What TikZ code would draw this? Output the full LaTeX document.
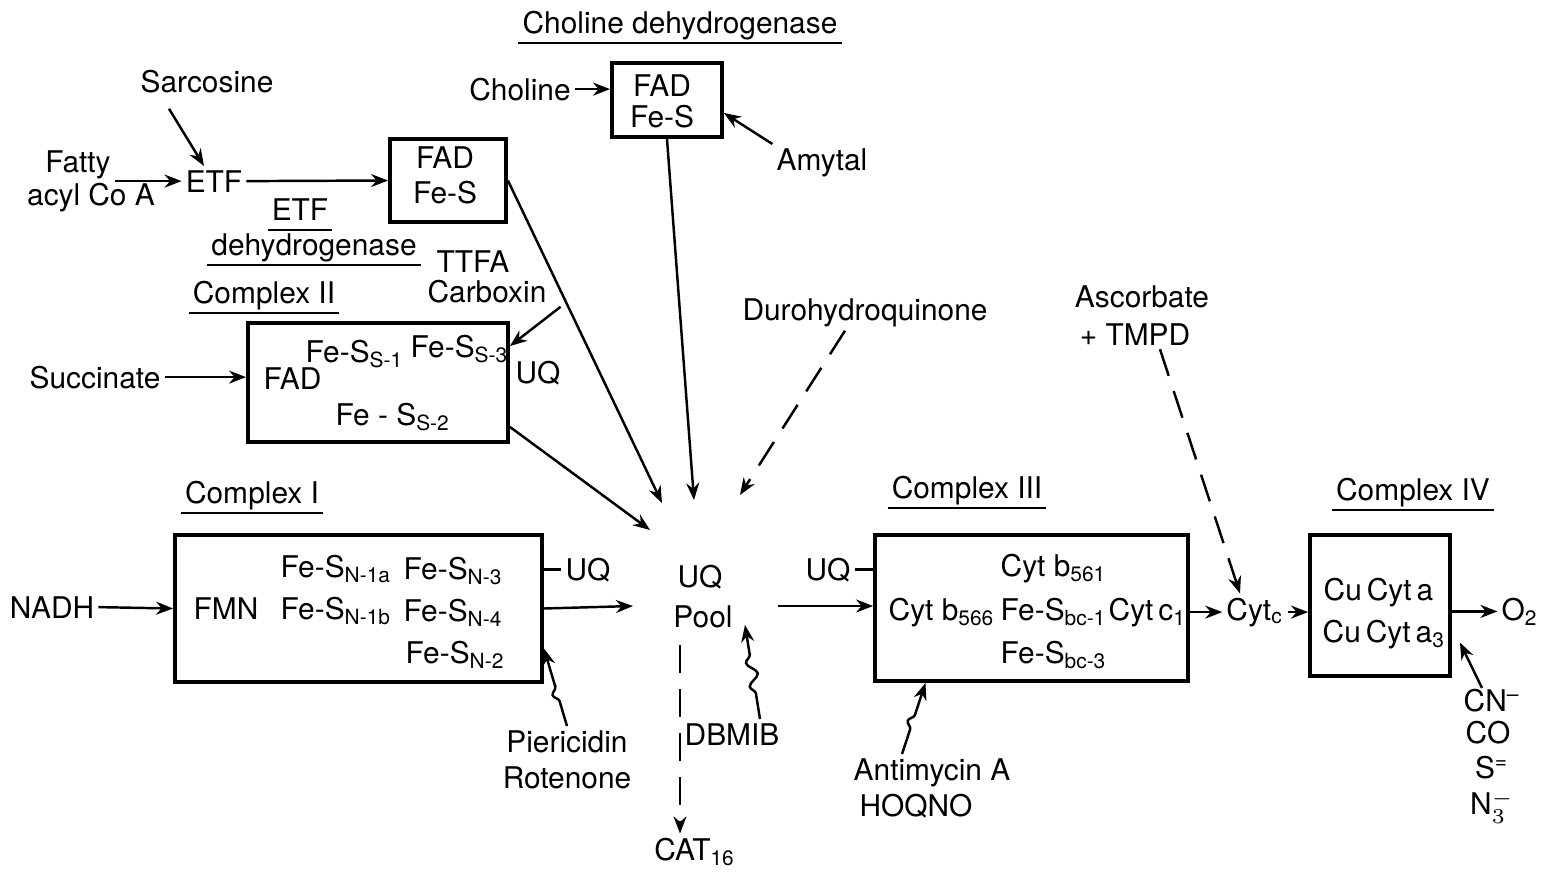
\documentclass[tikz,border=0pt]{standalone}
\usepackage{fontspec}
\setmainfont{TeX Gyre Heros}
\usetikzlibrary{arrows.meta,decorations.pathmorphing}

\begin{document}
\begin{tikzpicture}[
    >={Stealth[length=1.7mm,width=1.3mm]},
    every node/.style={font=\fontsize{8.5}{10}\selectfont},
    lbl/.style={anchor=base, inner sep=1pt},
    lblw/.style={anchor=base west, inner sep=0pt},
    cplx/.style={draw, line width=1.1pt, inner sep=0pt},
    flow/.style={line width=0.7pt, ->},
    feed/.style={line width=0.7pt, ->, dash pattern=on 2.8mm off 1.6mm},
    inhib/.style={line width=0.7pt, ->, decorate,
      decoration={snake, amplitude=0.5mm, segment length=2.4mm,
        pre length=2.6mm, post length=3mm}},
    uline/.style={line width=0.7pt}
  ]
  \useasboundingbox (0,0) rectangle (15.43,-8.74);

  % Complexes
  \node[cplx, minimum width=1.10cm, minimum height=0.74cm] (chd)  at (6.67,-1.00) {};
  \node[cplx, minimum width=1.16cm, minimum height=0.83cm] (etfd) at (4.48,-1.805) {};
  \node[cplx, minimum width=2.60cm, minimum height=1.19cm] (cII)  at (3.78,-3.825) {};
  \node[cplx, minimum width=3.67cm, minimum height=1.47cm] (cI)   at (3.585,-6.085) {};
  \node[cplx, minimum width=3.13cm, minimum height=1.46cm] (cIII) at (10.315,-6.08) {};
  \node[cplx, minimum width=1.40cm, minimum height=1.41cm] (cIV)  at (13.80,-6.055) {};

  % Titles
  \node[lbl] (tchd) at (6.80,-0.33) {Choline dehydrogenase};
  \node[lbl] (tetf) at (3.00,-2.20) {ETF};
  \node[lbl] (tdh)  at (3.14,-2.55) {dehydrogenase};
  \node[lbl] (tcII) at (2.64,-3.03) {Complex II};
  \node[lbl] (tcI)  at (2.52,-5.03) {Complex I};
  \node[lbl] (tcIII) at (9.67,-4.98) {Complex III};
  \node[lbl] (tcIV) at (14.13,-5.00) {Complex IV};
  \foreach \t in {tchd,tetf,tdh,tcII,tcI,tcIII,tcIV}
    \draw[uline] ([yshift=-1mm]\t.base west) -- ([yshift=-1mm]\t.base east);

  % Inside the boxes
  \node[lbl] (chd1) at (6.62,-0.96) {FAD};
  \node[lbl] (chd2) at (6.62,-1.27) {Fe-S};
  \node[lbl] (etf1) at (4.45,-1.68) {FAD};
  \node[lbl] (etf2) at (4.45,-2.03) {Fe-S};

  \node[lblw] (s1) at (3.05,-3.62) {Fe-S\textsubscript{S-1}};
  \node[lblw] (s3) at (4.10,-3.57) {Fe-S\textsubscript{S-3}};
  \node[lblw] (fad) at (2.63,-3.89) {FAD};
  \node[lblw] (s2) at (3.35,-4.25) {Fe - S\textsubscript{S-2}};

  \node[lblw] (fmn) at (1.93,-6.19) {FMN};
  \node[lblw] (n1a) at (2.80,-5.77) {Fe-S\textsubscript{N-1a}};
  \node[lblw] (n3)  at (4.03,-5.79) {Fe-S\textsubscript{N-3}};
  \node[lblw] (n1b) at (2.80,-6.19) {Fe-S\textsubscript{N-1b}};
  \node[lblw] (n4)  at (4.03,-6.21) {Fe-S\textsubscript{N-4}};
  \node[lblw] (n2)  at (4.05,-6.63) {Fe-S\textsubscript{N-2}};

  \node[lblw] (b566) at (8.88,-6.20) {Cyt b\textsubscript{566}};
  \node[lblw] (b561) at (10.00,-5.76) {Cyt b\textsubscript{561}};
  \node[lblw] (bc1)  at (10.00,-6.20) {Fe-S\textsubscript{bc-1}};
  \node[lblw] (bc3)  at (10.00,-6.63) {Fe-S\textsubscript{bc-3}};
  \node[lblw] (c1)   at (11.08,-6.20) {Cyt\,c\textsubscript{1}};

  \node[lblw] (cua)  at (13.23,-6.00) {Cu\,Cyt\,a};
  \node[lblw] (cua3) at (13.22,-6.42) {Cu\,Cyt\,a\textsubscript{3}};

  % Substrates, carriers and inhibitors
  \node[lbl] (choline) at (5.20,-1.00) {Choline};
  \node[lbl] (amytal)  at (8.22,-1.70) {Amytal};
  \node[lbl] (sarc)    at (2.07,-0.92) {Sarcosine};
  \node[lbl] (fatty)   at (0.78,-1.72) {Fatty};
  \node[lbl] (acyl)    at (0.91,-2.05) {acyl Co A};
  \node[lbl] (etf)     at (2.14,-1.92) {ETF};
  \node[lbl] (ttfa)    at (4.73,-2.72) {TTFA};
  \node[lbl] (carb)    at (4.87,-3.02) {Carboxin};
  \node[lbl] (uq2)     at (5.38,-3.83) {UQ};
  \node[lbl] (succ)    at (0.95,-3.88) {Succinate};
  \node[lbl] (nadh)    at (0.52,-6.18) {NADH};
  \node[lbl] (uq1)     at (5.88,-5.80) {UQ};
  \node[lbl] (pier)    at (5.67,-7.52) {Piericidin};
  \node[lbl] (rot)     at (5.67,-7.88) {Rotenone};
  \node[lbl] (pooluq)  at (7.00,-5.87) {UQ};
  \node[lbl] (poolp)   at (7.03,-6.27) {Pool};
  \node[lbl] (dbmib)   at (7.32,-7.45) {DBMIB};
  \node[lbl] (cat)     at (6.95,-8.60) {CAT\textsubscript{16}};
  \node[lbl] (duro)    at (8.65,-3.20) {Durohydroquinone};
  \node[lbl] (uq3)     at (8.28,-5.80) {UQ};
  \node[lbl] (antim)   at (9.32,-7.80) {Antimycin A};
  \node[lbl] (hoqno)   at (9.16,-8.16) {HOQNO};
  \node[lbl] (ascb)    at (11.42,-3.07) {Ascorbate};
  \node[lbl] (tmpd)    at (11.35,-3.45) {+ TMPD};
  \node[lbl] (cytc)    at (12.55,-6.20) {Cyt\textsubscript{c}};
  \node[lbl] (o2)      at (15.20,-6.20) {O\textsubscript{2}};
  \node[lbl, inner sep=0pt] (cn)  at (14.92,-7.11) {CN\textsuperscript{--}};
  \node[lbl, inner sep=0pt] (co)  at (14.88,-7.43) {CO};
  \node[lbl, inner sep=0pt] (sdi) at (14.92,-7.78) {S\textsuperscript{=}};
  \node[lbl, inner sep=0pt] (n3m) at (14.92,-8.14) {N$_3^{\smash{-}}$};

  % Ends at the UQ pool
  \coordinate (inA) at (6.62,-5.03);
  \coordinate (inB) at (6.94,-5.00);
  \coordinate (inC) at (6.50,-5.30);
  \coordinate (inD) at (7.40,-4.95);
  \coordinate (inE) at (6.33,-6.06);
  \coordinate (outR) at (7.78,-6.06);
  \coordinate (outD) at (6.80,-6.45);
  \coordinate (dbTip) at (7.45,-6.25);

  % Electron flow
  \draw[flow] (choline.east) -- (choline.east -| chd.west);
  \draw[flow] (chd.south) -- (inB);
  \draw[flow] ([shift={(-0.38,-0.12)}]sarc.south) -- ([xshift=-0.1cm]etf.north);
  \draw[flow] (fatty.east |- etf.west) -- (etf.west);
  \draw[flow] (etf.east) -- (etfd.west);
  \draw[flow] (etfd.east) -- (inA);
  \draw[flow] (succ.east) -- (succ.east -| cII.west);
  \draw[flow] ([yshift=1.7mm]cII.south east) -- (inC);
  \draw[feed] ([xshift=-2mm]duro.south) -- (inD);
  \draw[flow] (nadh.east) -- (cI.west);
  \draw[line width=0.7pt] (uq1.west -| cI.east) -- (uq1.west);
  \draw[flow] (cI.east) -- (inE);
  \draw[flow] (outR) -- (outR -| cIII.west);
  \draw[feed] (outD) -- (outD |- cat.north);
  \draw[line width=0.7pt] (uq3.east) -- (uq3.east -| cIII.west);
  \draw[flow] (cytc.west -| cIII.east) -- (cytc.west);
  \draw[feed] ([xshift=2.5mm]tmpd.south) -- ([xshift=-1.5mm]cytc.north);
  \draw[flow] (cytc.east) -- (cytc.east -| cIV.west);
  \draw[flow] (o2.west -| cIV.east) -- (o2.west);

  % Inhibitors
  \draw[inhib] (amytal.north west) -- ([yshift=-1.3mm]chd.east);
  \draw[inhib] ([xshift=1mm]carb.south east) -- ([yshift=-2.5mm]cII.north east);
  \draw[inhib] (pier.north) -- ([yshift=-4mm]cI.east);
  \draw[inhib] ([xshift=2.8mm]dbmib.north) -- (dbTip);
  \draw[inhib] ([xshift=-3mm]antim.north) -- ([xshift=-10.6mm]cIII.south);
  \draw[inhib] ([xshift=-1mm]cn.north) -- ([shift={(0.8mm,-3.7mm)}]cIV.east);
\end{tikzpicture}
\end{document}
